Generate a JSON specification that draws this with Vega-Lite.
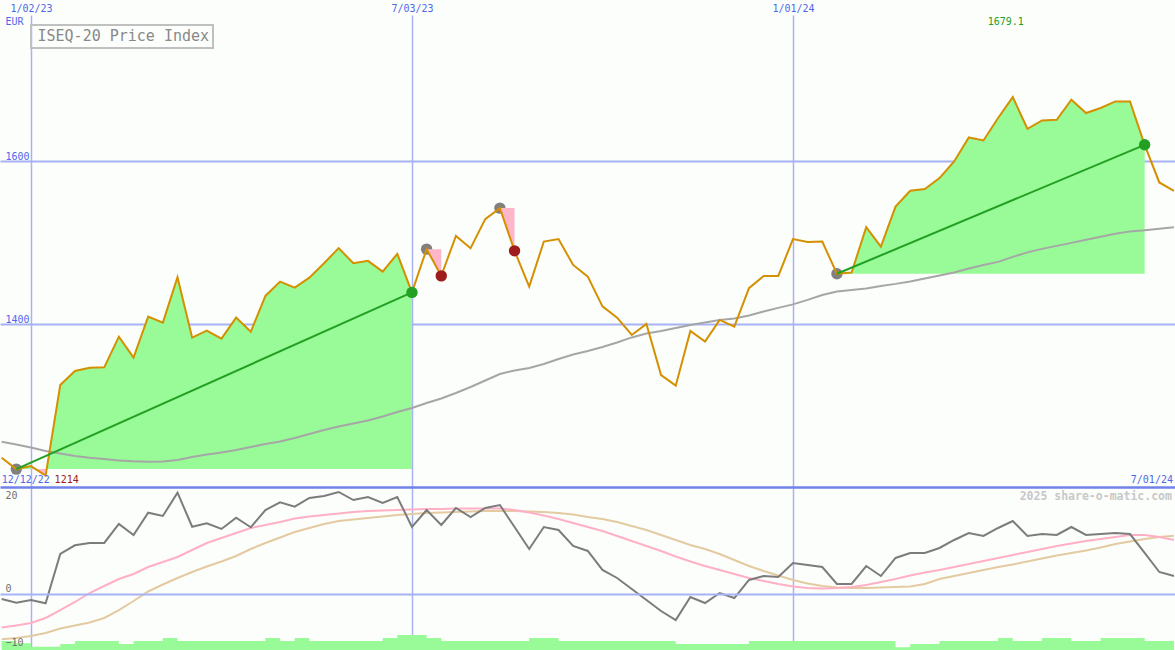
{
"$schema":"https://vega.github.io/schema/vega-lite/v6.json",
"width":1175,"height":635,
"autosize":{"type":"none"},
"padding":{"left":0,"right":0,"top":15,"bottom":0},
"background":"#fcfefc",
"config":{"view":{"stroke":null},"font":"DejaVu Sans Mono","axis":{"labelFont":"DejaVu Sans Mono","labelFontSize":10,"titleFont":"DejaVu Sans Mono"}},
"data":{"values":[
{"d":"2022-12-19","p":1235.9,"ma":1255.6,"m":-1.02,"s1":-6.84,"s2":-9.24,"v":0.9},
{"d":"2022-12-26","p":1222,"ma":1252.2,"m":-1.78,"s1":-6.43,"s2":-8.98,"v":0.67,"tr":1,"base":1222,"ev":"in"},
{"d":"2023-01-02","p":1225.7,"ma":1248.5,"m":-1.22,"s1":-5.92,"s2":-8.57,"v":0.33,"tr":1,"base":1222},
{"d":"2023-01-09","p":1214,"ma":1244.2,"m":-1.9,"s1":-4.9,"s2":-7.96,"v":0.33,"tr":1,"base":1222},
{"d":"2023-01-16","p":1325.3,"ma":1241.1,"m":8.16,"s1":-3.27,"s2":-7.04,"v":0.6,"tr":1,"base":1222},
{"d":"2023-01-23","p":1342.6,"ma":1238,"m":9.94,"s1":-1.63,"s2":-6.43,"v":0.9,"tr":1,"base":1222},
{"d":"2023-01-30","p":1346.6,"ma":1235.9,"m":10.41,"s1":0.2,"s2":-5.82,"v":0.9,"tr":1,"base":1222},
{"d":"2023-02-06","p":1347,"ma":1234.3,"m":10.41,"s1":1.63,"s2":-4.9,"v":0.9,"tr":1,"base":1222},
{"d":"2023-02-13","p":1384.7,"ma":1232.7,"m":14.29,"s1":3.06,"s2":-3.27,"v":0.6,"tr":1,"base":1222},
{"d":"2023-02-20","p":1358.9,"ma":1231.5,"m":12.04,"s1":4.08,"s2":-1.43,"v":0.9,"tr":1,"base":1222},
{"d":"2023-02-27","p":1409.3,"ma":1231,"m":16.59,"s1":5.51,"s2":0.51,"v":0.9,"tr":1,"base":1222},
{"d":"2023-03-06","p":1402,"ma":1231.2,"m":15.92,"s1":6.53,"s2":1.94,"v":1.2,"tr":1,"base":1222},
{"d":"2023-03-13","p":1457.8,"ma":1233.1,"m":20.67,"s1":7.55,"s2":3.27,"v":0.9,"tr":1,"base":1222},
{"d":"2023-03-20","p":1383.5,"ma":1236.8,"m":13.73,"s1":8.98,"s2":4.49,"v":0.9,"tr":1,"base":1222},
{"d":"2023-03-27","p":1392.1,"ma":1239.9,"m":14.43,"s1":10.41,"s2":5.61,"v":0.9,"tr":1,"base":1222},
{"d":"2023-04-03","p":1382.3,"ma":1242.3,"m":13.27,"s1":11.43,"s2":6.63,"v":0.9,"tr":1,"base":1222},
{"d":"2023-04-10","p":1408.1,"ma":1245.4,"m":15.57,"s1":12.45,"s2":7.76,"v":0.9,"tr":1,"base":1222},
{"d":"2023-04-17","p":1390.9,"ma":1249.1,"m":13.61,"s1":13.47,"s2":9.18,"v":0.9,"tr":1,"base":1222},
{"d":"2023-04-24","p":1434.8,"ma":1252.8,"m":17.14,"s1":14.08,"s2":10.41,"v":1.2,"tr":1,"base":1222},
{"d":"2023-05-01","p":1452.4,"ma":1255.8,"m":18.71,"s1":14.69,"s2":11.53,"v":0.9,"tr":1,"base":1222},
{"d":"2023-05-08","p":1445,"ma":1260.2,"m":17.82,"s1":15.41,"s2":12.65,"v":1.2,"tr":1,"base":1222},
{"d":"2023-05-15","p":1457.3,"ma":1265.1,"m":19.59,"s1":15.82,"s2":13.47,"v":0.9,"tr":1,"base":1222},
{"d":"2023-05-22","p":1475,"ma":1270,"m":20,"s1":16.12,"s2":14.29,"v":0.9,"tr":1,"base":1222},
{"d":"2023-05-29","p":1493.5,"ma":1274.3,"m":20.82,"s1":16.43,"s2":14.9,"v":0.9,"tr":1,"base":1222},
{"d":"2023-06-05","p":1475,"ma":1278,"m":19.18,"s1":16.73,"s2":15.2,"v":0.9,"tr":1,"base":1222},
{"d":"2023-06-12","p":1477.9,"ma":1281.7,"m":19.8,"s1":16.94,"s2":15.51,"v":0.9,"tr":1,"base":1222},
{"d":"2023-06-19","p":1464.7,"ma":1286.6,"m":18.57,"s1":17.04,"s2":15.82,"v":1.2,"tr":1,"base":1222},
{"d":"2023-06-26","p":1486.5,"ma":1292.1,"m":19.8,"s1":17.14,"s2":16.12,"v":1.5,"tr":1,"base":1222},
{"d":"2023-07-03","p":1439.1,"ma":1297,"m":13.67,"s1":17.24,"s2":16.33,"v":1.5,"tr":1,"base":1222,"ev":"win"},
{"d":"2023-07-10","p":1492.3,"ma":1303.2,"m":17.14,"s1":17.35,"s2":16.53,"v":1.2,"tr":2,"base":1492.3,"ev":"in"},
{"d":"2023-07-17","p":1459.4,"ma":1308.7,"m":14.08,"s1":17.35,"s2":16.63,"v":0.9,"tr":2,"base":1492.3,"ev":"loss"},
{"d":"2023-07-24","p":1508.6,"ma":1315.5,"m":17.55,"s1":17.45,"s2":16.73,"v":0.9},
{"d":"2023-07-31","p":1493.5,"ma":1322.9,"m":15.71,"s1":17.45,"s2":16.84,"v":0.9},
{"d":"2023-08-07","p":1529.2,"ma":1330.9,"m":17.55,"s1":17.45,"s2":16.94,"v":0.9},
{"d":"2023-08-14","p":1542.7,"ma":1338.9,"m":18.16,"s1":17.45,"s2":16.94,"v":0.9,"tr":3,"base":1542.7,"ev":"in"},
{"d":"2023-08-21","p":1490.2,"ma":1343.2,"m":13.67,"s1":17.14,"s2":16.94,"v":0.9,"tr":3,"base":1542.7,"ev":"loss"},
{"d":"2023-08-28","p":1446.2,"ma":1346.3,"m":9.18,"s1":16.63,"s2":16.84,"v":1.2},
{"d":"2023-09-04","p":1501.6,"ma":1351.2,"m":13.67,"s1":16.02,"s2":16.73,"v":1.2},
{"d":"2023-09-11","p":1504.6,"ma":1357.3,"m":13.06,"s1":15.31,"s2":16.53,"v":0.9},
{"d":"2023-09-18","p":1472.9,"ma":1362.9,"m":9.8,"s1":14.49,"s2":16.22,"v":0.9},
{"d":"2023-09-25","p":1458.5,"ma":1367.2,"m":8.78,"s1":13.67,"s2":15.71,"v":0.9},
{"d":"2023-10-02","p":1421.9,"ma":1372.1,"m":4.9,"s1":12.86,"s2":15.31,"v":0.9},
{"d":"2023-10-09","p":1408.1,"ma":1377.6,"m":3.27,"s1":11.84,"s2":14.69,"v":0.9},
{"d":"2023-10-16","p":1386.8,"ma":1383.8,"m":1.02,"s1":10.82,"s2":13.88,"v":0.9},
{"d":"2023-10-23","p":1400.4,"ma":1388.7,"m":-1.22,"s1":9.8,"s2":13.06,"v":0.9},
{"d":"2023-10-30","p":1337.6,"ma":1391.8,"m":-3.47,"s1":8.78,"s2":12.04,"v":0.9},
{"d":"2023-11-06","p":1324.5,"ma":1395.5,"m":-5.31,"s1":7.65,"s2":11.02,"v":0.6},
{"d":"2023-11-13","p":1391.8,"ma":1399.1,"m":-0.61,"s1":6.63,"s2":10,"v":0.6},
{"d":"2023-11-20","p":1378.6,"ma":1402.2,"m":-1.84,"s1":5.71,"s2":9.18,"v":0.6},
{"d":"2023-11-27","p":1405.3,"ma":1405.3,"m":0.2,"s1":4.9,"s2":8.16,"v":0.6},
{"d":"2023-12-04","p":1397,"ma":1407.1,"m":-0.82,"s1":4.08,"s2":6.94,"v":0.6},
{"d":"2023-12-11","p":1444.3,"ma":1410.8,"m":2.86,"s1":3.27,"s2":5.71,"v":0.9},
{"d":"2023-12-18","p":1459.4,"ma":1415.7,"m":3.67,"s1":2.65,"s2":4.69,"v":0.9},
{"d":"2023-12-25","p":1459.4,"ma":1420.1,"m":3.47,"s1":2.04,"s2":3.78,"v":0.9},
{"d":"2024-01-01","p":1504.6,"ma":1424.4,"m":6.33,"s1":1.53,"s2":2.86,"v":0.9},
{"d":"2024-01-08","p":1501.2,"ma":1429.9,"m":5.92,"s1":1.22,"s2":2.14,"v":0.9},
{"d":"2024-01-15","p":1501.6,"ma":1436,"m":5.51,"s1":1.12,"s2":1.63,"v":0.9},
{"d":"2024-01-22","p":1462,"ma":1440.3,"m":2.04,"s1":1.22,"s2":1.33,"v":0.9,"tr":4,"base":1462,"ev":"in"},
{"d":"2024-01-29","p":1463.5,"ma":1442.2,"m":2.04,"s1":1.43,"s2":1.22,"v":0.9,"tr":4,"base":1462},
{"d":"2024-02-05","p":1519.3,"ma":1444,"m":5.71,"s1":1.84,"s2":1.22,"v":0.9,"tr":4,"base":1462},
{"d":"2024-02-12","p":1495.4,"ma":1447.1,"m":3.67,"s1":2.45,"s2":1.33,"v":0.9,"tr":4,"base":1462},
{"d":"2024-02-19","p":1544.6,"ma":1449.6,"m":7.35,"s1":3.06,"s2":1.43,"v":0.27,"tr":4,"base":1462},
{"d":"2024-02-26","p":1564,"ma":1452.6,"m":8.37,"s1":3.78,"s2":1.53,"v":0.6,"tr":4,"base":1462},
{"d":"2024-03-04","p":1566.1,"ma":1456.3,"m":8.37,"s1":4.39,"s2":2.04,"v":0.6,"tr":4,"base":1462},
{"d":"2024-03-11","p":1579.6,"ma":1460,"m":9.39,"s1":4.9,"s2":3.06,"v":0.9,"tr":4,"base":1462},
{"d":"2024-03-18","p":1600,"ma":1463.7,"m":11.02,"s1":5.51,"s2":3.67,"v":0.9,"tr":4,"base":1462},
{"d":"2024-03-25","p":1629.5,"ma":1468.6,"m":12.45,"s1":6.12,"s2":4.29,"v":0.9,"tr":4,"base":1462},
{"d":"2024-04-01","p":1625.8,"ma":1472.9,"m":11.84,"s1":6.73,"s2":4.9,"v":0.9,"tr":4,"base":1462},
{"d":"2024-04-08","p":1653.4,"ma":1476.6,"m":13.47,"s1":7.35,"s2":5.51,"v":1.2,"tr":4,"base":1462},
{"d":"2024-04-15","p":1679.1,"ma":1482.8,"m":14.9,"s1":7.96,"s2":6.02,"v":0.9,"tr":4,"base":1462},
{"d":"2024-04-22","p":1640.2,"ma":1488.3,"m":11.84,"s1":8.57,"s2":6.63,"v":0.9,"tr":4,"base":1462},
{"d":"2024-04-29","p":1650.4,"ma":1492.6,"m":12.24,"s1":9.18,"s2":7.24,"v":1.2,"tr":4,"base":1462},
{"d":"2024-05-06","p":1651.3,"ma":1496.3,"m":12.04,"s1":9.8,"s2":7.86,"v":1.2,"tr":4,"base":1462},
{"d":"2024-05-13","p":1675.9,"ma":1500,"m":13.67,"s1":10.31,"s2":8.37,"v":0.9,"tr":4,"base":1462},
{"d":"2024-05-20","p":1659.5,"ma":1503.7,"m":12.04,"s1":10.82,"s2":8.88,"v":0.9,"tr":4,"base":1462},
{"d":"2024-05-27","p":1665.7,"ma":1507.4,"m":12.24,"s1":11.22,"s2":9.49,"v":1.2,"tr":4,"base":1462},
{"d":"2024-06-03","p":1673.8,"ma":1511.1,"m":12.45,"s1":11.63,"s2":10.2,"v":1.2,"tr":4,"base":1462},
{"d":"2024-06-10","p":1673.8,"ma":1514.1,"m":12.24,"s1":12.04,"s2":10.71,"v":1.2,"tr":4,"base":1462},
{"d":"2024-06-17","p":1620.5,"ma":1515.4,"m":8.37,"s1":12.04,"s2":11.22,"v":0.9,"tr":4,"base":1462,"ev":"win"},
{"d":"2024-06-24","p":1574.2,"ma":1517.2,"m":4.49,"s1":11.63,"s2":11.63,"v":0.9},
{"d":"2024-07-01","p":1564,"ma":1519.1,"m":3.67,"s1":11.02,"s2":11.9,"v":0.9}
]},
"encoding":{"x":{"field":"d","type":"temporal",
  "scale":{"type":"utc","domain":[{"year":2022,"month":12,"date":18,"hours":5,"utc":true},{"year":2024,"month":7,"date":1,"hours":12,"utc":true}]},
  "axis":{"orient":"top","title":null,"values":[{"year":2023,"month":1,"date":2,"utc":true},{"year":2023,"month":7,"date":3,"utc":true},{"year":2024,"month":1,"date":1,"utc":true}],
    "labelExpr":"utcFormat(datum.value, '%-m/%d/%y')","domain":false,"ticks":false,"labelPadding":2,"labelFlush":false,"labelOverlap":false,
    "labelColor":"#5068e8","grid":true,"gridColor":"#a6b2f4","gridWidth":1.5}}},
"layer":[
   {"mark":{"type":"area","color":"#98fb98","interpolate":"step-after","opacity":1},
    "encoding":{"y":{"field":"v","type":"quantitative","scale":{"domain":[0,63.5],"nice":false,"zero":true},"axis":null}}},
   {"transform":[{"filter":"datum.tr === 1 || datum.tr === 4"}],
    "mark":{"type":"area","color":"#98fb98","opacity":1},
    "encoding":{"y":{"field":"p","type":"quantitative","scale":{"domain":[999.7,1780],"nice":false,"zero":false},"axis":null},"y2":{"field":"base"},"detail":{"field":"tr"}}},
   {"transform":[{"filter":"datum.ev === 'in'"}],
    "mark":{"type":"point","filled":true,"color":"#808080","opacity":1,"size":130},
    "encoding":{"y":{"field":"p","type":"quantitative","scale":{"domain":[999.7,1780],"nice":false,"zero":false},"axis":null}}},
   {"transform":[{"filter":"datum.tr === 2 || datum.tr === 3"}],
    "mark":{"type":"area","color":"#ffb6c8","opacity":1},
    "encoding":{"y":{"field":"p","type":"quantitative","scale":{"domain":[999.7,1780],"nice":false,"zero":false},"axis":null},"y2":{"field":"base"},"detail":{"field":"tr"}}},
   {"transform":[{"filter":"datum.p === 1225.7 || datum.p === 1214"}],
    "mark":{"type":"area","color":"#ffb6c8","opacity":1},
    "encoding":{"y":{"field":"p","type":"quantitative","scale":{"domain":[999.7,1780],"nice":false,"zero":false},"axis":null},"y2":{"field":"base"}}},
   {"mark":{"type":"line","color":"#a6a6a6","strokeWidth":2},
    "encoding":{"y":{"field":"ma","type":"quantitative","scale":{"domain":[999.7,1780],"nice":false,"zero":false},"axis":null}}},
   {"mark":{"type":"line","strokeWidth":2},
    "encoding":{"y":{"field":"p","type":"quantitative","scale":{"domain":[999.7,1780],"nice":false,"zero":false},
       "axis":{"orient":"left","values":[1200,1400,1600],"format":"d","title":"EUR","titleAngle":0,"titleAlign":"left","titleBaseline":"alphabetic","titleX":5,"titleY":9,
         "titleFontSize":10,"titleFontWeight":"normal","titleColor":"#5068e8","domain":false,"ticks":false,"labelAlign":"left","labelBaseline":"alphabetic",
         "labelPadding":-5,"labelOffset":-2,"labelColor":"#5068e8","labelFlush":false,"labelOverlap":false,
         "labelExpr":"datum.value === 1200 ? '' : datum.label","grid":true,
         "gridColor":{"condition":{"test":"datum.value === 1200","value":"#7282ea"},"value":"#a6b2f4"},
         "gridWidth":{"condition":{"test":"datum.value === 1200","value":2.5},"value":2}}},
      "color":{"datum":"ISEQ-20 Price Index","type":"nominal","scale":{"range":["#d49000"]},
        "legend":{"title":null,"orient":"none","legendX":31,"legendY":10,"strokeColor":"#c0c0c0","padding":3.5,
          "symbolType":"circle","symbolOpacity":0,"symbolSize":1,"symbolStrokeWidth":0,"labelOffset":-12,"labelFont":"DejaVu Sans Mono","labelFontSize":15,"labelColor":"#888888","labelLimit":400,
          "encode":{"legend":{"update":{"strokeWidth":{"value":2}}}}}}}},
   {"transform":[{"filter":"(datum.tr === 1 || datum.tr === 4) && datum.ev"}],
    "mark":{"type":"line","color":"#22a022","strokeWidth":2},
    "encoding":{"y":{"field":"p","type":"quantitative","scale":{"domain":[999.7,1780],"nice":false,"zero":false},"axis":null},"detail":{"field":"tr"}}},
   {"transform":[{"filter":"datum.ev === 'win'"}],
    "mark":{"type":"point","filled":true,"color":"#22a022","opacity":1,"size":130},
    "encoding":{"y":{"field":"p","type":"quantitative","scale":{"domain":[999.7,1780],"nice":false,"zero":false},"axis":null}}},
   {"transform":[{"filter":"datum.ev === 'loss'"}],
    "mark":{"type":"point","filled":true,"color":"#a01c1c","opacity":1,"size":130},
    "encoding":{"y":{"field":"p","type":"quantitative","scale":{"domain":[999.7,1780],"nice":false,"zero":false},"axis":null}}},
   {"transform":[{"filter":"datum.p === 1235.9"}],
    "mark":{"type":"text","text":"12/12/22","align":"left","baseline":"alphabetic","dx":0,"font":"DejaVu Sans Mono","fontSize":10,"color":"#5068e8"},
    "encoding":{"y":{"datum":1204.8,"type":"quantitative","scale":{"domain":[999.7,1780],"nice":false,"zero":false},"axis":null}}},
   {"transform":[{"filter":"datum.ma === 1519.1"}],
    "mark":{"type":"text","text":"7/01/24","align":"right","baseline":"alphabetic","dx":-1,"font":"DejaVu Sans Mono","fontSize":10,"color":"#5068e8"},
    "encoding":{"y":{"datum":1204.8,"type":"quantitative","scale":{"domain":[999.7,1780],"nice":false,"zero":false},"axis":null}}},
   {"transform":[{"filter":"datum.p === 1214"}],
    "mark":{"type":"text","align":"left","baseline":"alphabetic","dx":9,"font":"DejaVu Sans Mono","fontSize":10,"color":"#a01818"},
    "encoding":{"text":{"field":"p","type":"quantitative"},"y":{"datum":1204.8,"type":"quantitative","scale":{"domain":[999.7,1780],"nice":false,"zero":false},"axis":null}}},
   {"transform":[{"filter":"datum.p === 1679.1"}],
    "mark":{"type":"text","align":"center","baseline":"alphabetic","dx":-7,"font":"DejaVu Sans Mono","fontSize":10,"color":"#22a022"},
    "encoding":{"text":{"field":"p","type":"quantitative","format":".1f"},"y":{"datum":1768,"type":"quantitative","scale":{"domain":[999.7,1780],"nice":false,"zero":false},"axis":null}}},
   {"mark":{"type":"line","color":"#e4caa0","strokeWidth":2},
    "encoding":{"y":{"field":"s2","type":"quantitative","scale":{"domain":[-11.43,118.16],"nice":false,"zero":false},"axis":null}}},
   {"mark":{"type":"line","color":"#ffb0c4","strokeWidth":2},
    "encoding":{"y":{"field":"s1","type":"quantitative","scale":{"domain":[-11.43,118.16],"nice":false,"zero":false},"axis":null}}},
   {"mark":{"type":"line","color":"#7c7c7c","strokeWidth":2},
    "encoding":{"y":{"field":"m","type":"quantitative","scale":{"domain":[-11.43,118.16],"nice":false,"zero":false},
      "axis":{"orient":"left","zindex":1,"values":[-10,0,20],"title":null,"domain":false,"ticks":false,"labelAlign":"left","labelBaseline":"alphabetic","labelPadding":-5,
        "labelOffset":{"condition":{"test":"datum.value === 0","value":-2},"value":3},"labelColor":"#707070","labelFlush":false,"labelOverlap":false,
        "grid":true,"gridColor":"#a6b2f4","gridWidth":2,"gridOpacity":{"condition":{"test":"datum.value === 0","value":1},"value":0}}}}},
   {"transform":[{"filter":"datum.ma === 1519.1"}],
    "mark":{"type":"text","text":"2025 share-o-matic.com","align":"right","baseline":"alphabetic","dx":-2,"font":"DejaVu Sans Mono","fontSize":11.5,"fontWeight":"bold","color":"#c8c8c8"},
    "encoding":{"y":{"datum":19.2,"type":"quantitative","scale":{"domain":[-11.43,118.16],"nice":false,"zero":false},"axis":null}}}
],
"resolve":{"scale":{"y":"independent"},"axis":{"y":"independent"}}
}
